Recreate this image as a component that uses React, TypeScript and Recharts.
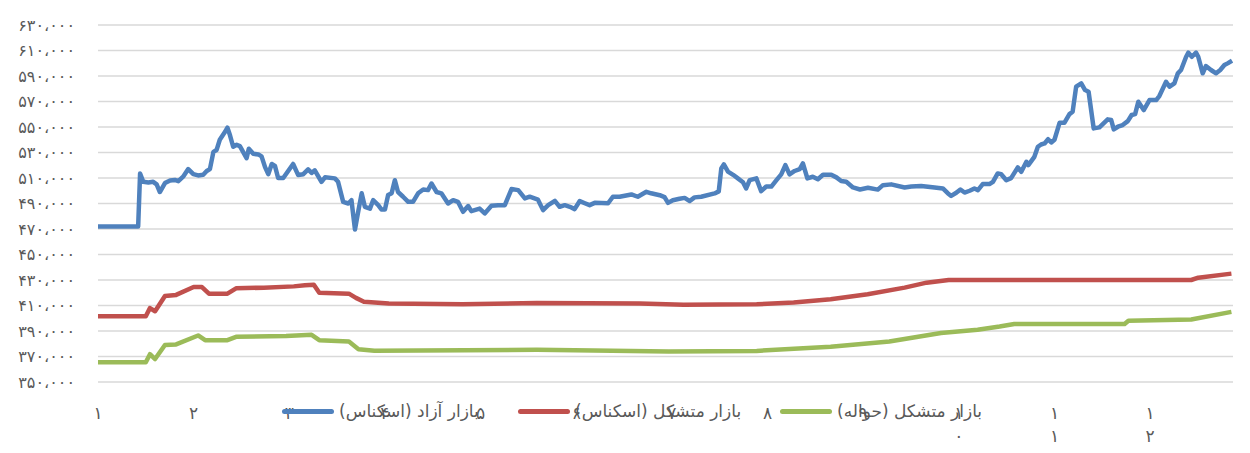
import { LineChart, Line, XAxis, YAxis, CartesianGrid, Legend } from "recharts";

// days since start of the year (x) and prices in rials (y)
const monthTicks = [0, 30, 60, 90, 120, 150, 180, 210, 240, 270, 300, 330];
const monthLabels = ["۱", "۲", "۳", "۴", "۵", "۶", "۷", "۸", "۹", "۱۰", "۱۱", "۱۲"];
const yTicks = [350000, 370000, 390000, 410000, 430000, 450000, 470000, 490000, 510000, 530000, 550000, 570000, 590000, 610000, 630000];

const freeDays = [
  0, 12.6, 13.2, 14.2, 15.8, 17.3, 18.4, 19.4, 21, 22.6, 24.1, 25.2, 26.7, 28.3, 29.9, 31.4, 33, 34.1, 35.1, 36.2,
  37.2, 38.2, 39.8, 40.6, 41.4, 42.4, 43.5, 44.5, 45.5, 46.6, 47.3, 48.7, 50.3, 51.3, 52.4, 53.4, 54.5, 55.5, 56.5, 58.1,
  61.2, 62.8, 64.4, 65.9, 67, 68, 70.1, 71.2, 74.3, 75.3, 76.9, 78.5, 79.5, 80.6, 81.6, 82.7, 83.7, 85.3, 86.3, 87.9,
  88.9, 90, 91, 92.1, 93.1, 94.1, 95.7, 97.3, 98.8, 100.4, 102, 103.5, 104.6, 106.2, 107.7, 109.8, 111.4, 112.9, 114.5, 116.1,
  117.1, 119.7, 121.3, 123.4, 125.5, 127.6, 129.7, 131.8, 133.9, 135.4, 138, 139.6, 141.2, 143.3, 144.8, 146.4, 148, 149.5, 151.1, 152.7,
  154.2, 155.8, 160, 161.5, 163.6, 167.3, 169.3, 172, 173.5, 176.2, 177.7, 178.8, 180.3, 182.4, 184, 185.6, 187.1, 189.2, 193.4, 194.7,
  195.5, 196.3, 197.6, 199.2, 200.7, 202.3, 203.3, 204.4, 206.5, 208, 209.6, 211.2, 212.8, 214.3, 215.6, 216.9, 218.5, 220.1, 221.1, 222.5,
  224.2, 225.8, 227.4, 230, 231.6, 233.1, 234.7, 236.8, 239, 241.5, 244.6, 246.2, 248.8, 253, 255.1, 258.2, 262.4, 265, 266.6, 267.6,
  269.2, 270.5, 271.8, 273.4, 274.9, 276, 277.5, 279.6, 280.7, 282.2, 283.3, 284.9, 286.4, 288.5, 289.6, 291.2, 291.8, 293.7, 294.8, 295.8,
  296.9, 298, 299, 300, 301.6, 303.1, 304.7, 305.7, 306.8, 308.4, 309.6, 310.7, 312.3, 314.1, 316.7, 317.8, 318.6, 319.9, 321.4, 323,
  324.2, 325.3, 326.3, 328, 329.8, 331.9, 332.9, 335, 336.1, 337.6, 338.7, 339.7, 341.3, 342, 343.1, 344.4, 345.1, 346.5, 347.5, 349.1,
  350.7, 352, 353.3, 354.3, 355.7,
];
const freeValues = [
  472000, 472000, 513500, 507000, 506500, 507000, 505000, 499000, 506000, 508000, 508500, 507500, 511000, 517000, 513000, 512000, 512500, 515500, 517000, 530500,
  532000, 540000, 546000, 549500, 543500, 534500, 536000, 535000, 530500, 525500, 533000, 529000, 528500, 527000, 518500, 513000, 521000, 519500, 510000, 510000,
  521000, 512300, 513000, 516700, 514000, 516000, 507000, 510500, 509700, 507000, 491300, 490000, 492600, 469600, 483500, 498000, 487400, 486000, 492600, 488700,
  485300, 485300, 496600, 498000, 508300, 499000, 495300, 491300, 491300, 498000, 501000, 500500, 505700, 499000, 498000, 490000, 492600, 491300, 483500, 488000,
  484000, 486000, 482200, 488200, 488700, 488700, 501300, 500500, 494000, 495300, 493000, 484800, 488700, 492100, 487400, 488700, 487400, 485600, 491900, 490200,
  488700, 490500, 490200, 495300, 495300, 497100, 495300, 499200, 498000, 496500, 495000, 490500, 492600, 493700, 494400, 491900, 494800, 495300, 497900, 499500,
  517500, 520700, 515000, 512500, 509700, 506600, 501800, 508300, 509700, 499700, 503300, 503300, 508300, 512800, 520100, 512800, 515500, 517000, 521400, 509700,
  511000, 509000, 512500, 512500, 510500, 507600, 507000, 502600, 501000, 502300, 500900, 504400, 505000, 502600, 503300, 503800, 502600, 501800, 497900, 496000,
  498400, 501000, 498600, 500000, 501800, 500500, 505200, 505200, 507000, 513600, 513000, 508300, 509900, 518300, 514900, 522700, 520100, 526600, 534500, 536300,
  537100, 540400, 537900, 540000, 553300, 553300, 560100, 562000, 581600, 584200, 579000, 577700, 548900, 549700, 556000, 555500, 548100, 550200, 551500, 554600,
  559400, 560100, 569800, 563300, 571100, 571100, 574300, 585500, 581600, 584200, 592100, 594700, 605100, 608300, 605100, 608300, 605100, 592100, 597800, 594700,
  592100, 594700, 598600, 599900, 602000,
];

const orgCashDays = [0, 15, 16.3, 17.9, 21, 24.5, 30, 32.6, 34.8, 40.6, 43.3, 52, 61.4, 64.9, 67.7, 69.4, 78.7, 80.9, 83.4, 91.2, 114.4, 137.6, 169.9, 183.7, 206.6, 218.2, 229.8, 241.4, 253, 259.9, 266.8, 342.9, 345.1, 355.5];
const orgCashValues = [401500, 401500, 408000, 405500, 417500, 418300, 424500, 424500, 419300, 419300, 423500, 424000, 425000, 425800, 426300, 420000, 419300, 416000, 413000, 411500, 411000, 412000, 411500, 410500, 411000, 412300, 414900, 418800, 424000, 427900, 430000, 430000, 431800, 435000];

const orgRemitDays = [0, 15, 16.3, 17.9, 21, 24.5, 31.4, 33.6, 40.6, 43.3, 59, 67, 69.4, 78.7, 81.7, 86.7, 137.6, 179, 206.6, 229.8, 248.2, 264.4, 275.9, 282.8, 287.4, 322, 323.2, 342.9, 355.5];
const orgRemitValues = [365500, 365500, 371800, 368000, 379000, 379500, 386500, 382800, 382800, 385400, 386000, 387000, 382800, 381700, 375700, 374500, 375200, 374000, 374400, 377600, 381700, 388500, 391000, 393500, 395500, 395500, 398000, 399000, 405000];

const series = [
  { name: "بازار آزاد (اسکناس)", color: "#4f81bd", data: freeDays.map((d, i) => ({ day: d, value: freeValues[i] })) },
  { name: "بازار متشکل (اسکناس)", color: "#c0504d", data: orgCashDays.map((d, i) => ({ day: d, value: orgCashValues[i] })) },
  { name: "بازار متشکل (حواله)", color: "#9bbb59", data: orgRemitDays.map((d, i) => ({ day: d, value: orgRemitValues[i] })) },
];

const FA_DIGITS = "۰۱۲۳۴۵۶۷۸۹";
function toFa(s: string): string {
  return s.replace(/\d/g, (d) => FA_DIGITS[Number(d)]);
}

function formatYAxis(value: number): string {
  return toFa(value.toLocaleString("en-US")).replace(/,/g, "،");
}

function MonthTick({ x, y, payload }: any) {
  const label = monthLabels[monthTicks.indexOf(payload.value)] ?? "";
  const lines = label.length > 1 ? label.split("") : [label];
  return (
    <g>
      {lines.map((ch, i) => (
        <text key={i} x={x} y={y + 35 + i * 23} textAnchor="middle" fill="#595959" fontSize={17}>
          {ch}
        </text>
      ))}
    </g>
  );
}

const legendItemWidths = [236, 262, undefined];

function LegendContent() {
  return (
    <div style={{ display: "flex", alignItems: "center", paddingLeft: 274 }}>
      {series.map((s, i) => (
        <div key={s.name} style={{ display: "flex", alignItems: "center", gap: 5, width: legendItemWidths[i] }}>
          <span style={{ display: "inline-block", width: 52, height: 5, borderRadius: 3, background: s.color }} />
          <span dir="rtl" style={{ fontSize: 17, color: "#595959", whiteSpace: "nowrap" }}>
            {s.name}
          </span>
        </div>
      ))}
    </div>
  );
}

export default function App() {
  return (
    <div style={{ fontFamily: "'DejaVu Sans', sans-serif" }}>
      <LineChart width={1234} height={437} margin={{ top: 17, right: 9, left: 0, bottom: 0 }}>
        <CartesianGrid vertical={false} stroke="#d9d9d9" strokeWidth={1.3} />
        <XAxis
          type="number"
          dataKey="day"
          domain={[0, 356]}
          ticks={monthTicks}
          tick={<MonthTick />}
          axisLine={false}
          tickLine={false}
          tickSize={0}
          height={63}
          allowDataOverflow
        />
        <YAxis
          type="number"
          domain={[350000, 630000]}
          ticks={yTicks}
          tickFormatter={formatYAxis}
          tick={{ fill: "#595959", fontSize: 16, letterSpacing: 1 }}
          axisLine={false}
          tickLine={false}
          tickMargin={17}
          width={90}
          interval={0}
        />
        <Legend
          content={<LegendContent />}
          wrapperStyle={{ position: "absolute", top: 393, left: 0, bottom: "auto", width: 1234, height: 0 }}
        />
        {series.map((s) => (
          <Line
            key={s.name}
            data={s.data}
            dataKey="value"
            name={s.name}
            type="linear"
            stroke={s.color}
            strokeWidth={4.5}
            strokeLinejoin="round"
            dot={false}
            isAnimationActive={false}
          />
        ))}
      </LineChart>
    </div>
  );
}
